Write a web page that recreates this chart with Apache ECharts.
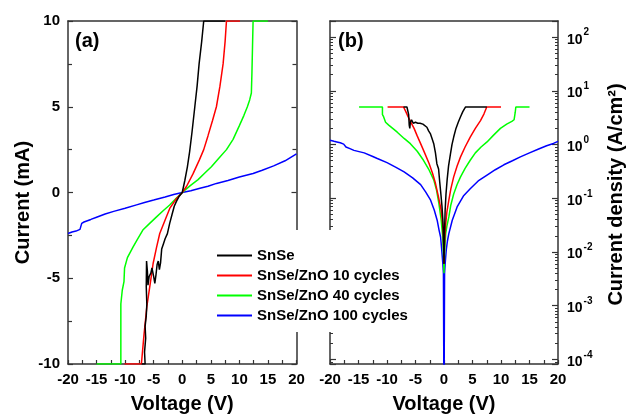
<!DOCTYPE html>
<html>
<head>
<meta charset="utf-8">
<script src="https://cdn.jsdelivr.net/npm/echarts@6/dist/echarts.min.js"></script>
<style>
html,body{margin:0;padding:0;background:#fff;}
#chart{width:628px;height:414px;}
</style>
</head>
<body>
<div id="chart"></div>
<script>
// ---------- data ----------
const seriesNames = ['SnSe', 'SnSe/ZnO 10 cycles', 'SnSe/ZnO 40 cycles', 'SnSe/ZnO 100 cycles'];
const seriesColors = ['#000000', '#ff0000', '#00ff00', '#0000ff'];
const panelLabels = ['(a)', '(b)'];
const voltageTicks = [-20, -15, -10, -5, 0, 5, 10, 15, 20];
const currentTicks = [-10, -5, 0, 5, 10];
const densityDecades = [-4, -3, -2, -1, 0, 1, 2];

// Panel (a): [Voltage (V), Current (mA)]
const snseIV = [[-7.1,-10],[-6.5,-10],[-6.6,-9.3],[-6.4,-8.5],[-6.5,-7.8],[-6.3,-7.2],[-6.2,-6.5],[-6.3,-5.5],[-6.25,-4.0],[-6.1,-4.6],[-6.0,-5.4],[-5.8,-4.9],[-5.5,-4.7],[-5.3,-4.4],[-5.0,-4.9],[-4.8,-5.3],[-4.6,-4.8],[-4.4,-4.2],[-4.2,-4.0],[-4.0,-4.5],[-3.8,-4.1],[-3.6,-3.3],[-3.3,-3.0],[-3.0,-2.7],[-2.6,-2.4],[-2.2,-1.8],[-1.8,-1.3],[-1.4,-0.8],[-1.0,-0.5],[-0.6,-0.25],[0,0],[0.45,0.7],[0.9,1.5],[1.3,2.4],[1.7,3.5],[2.2,5.0],[2.6,6.2],[2.95,7.5],[3.4,8.8],[3.76,10],[7.5,10]];
const zno10IV = [[-10.1,-10],[-7.15,-10],[-6.7,-8.3],[-6.2,-6.66],[-5.6,-5.3],[-5.1,-4.14],[-4.5,-3.2],[-3.94,-2.39],[-3.0,-1.6],[-2.19,-0.93],[-1.0,-0.35],[0,0],[0.74,0.35],[1.9,1.1],[3.0,1.9],[3.76,2.5],[4.5,3.3],[5.3,4.2],[5.98,5.0],[6.6,6.2],[7.15,7.5],[7.5,8.8],[7.74,10],[10.1,10]];
const zno40IV = [[-15,-10],[-10.75,-10],[-10.75,-6.5],[-10.5,-5.7],[-10.2,-5.2],[-10.1,-4.4],[-9.6,-3.8],[-8.6,-3.17],[-7.8,-2.7],[-6.9,-2.19],[-5.7,-1.8],[-4.5,-1.42],[-3.3,-1.05],[-2.2,-0.73],[-1.1,-0.35],[0,0],[1.4,0.4],[2.77,0.75],[4.0,1.15],[5.1,1.5],[6.4,2.0],[7.74,2.5],[8.9,3.1],[10.0,3.9],[10.8,4.5],[11.4,5.0],[11.8,5.4],[12.1,5.8],[12.2,7.0],[12.3,8.5],[12.4,10],[15,10]];
const zno100IV = [[-20,-2.39],[-19.3,-2.3],[-18.6,-2.25],[-17.9,-2.15],[-17.6,-1.8],[-17.2,-1.72],[-16,-1.57],[-15,-1.44],[-13.5,-1.25],[-12,-1.1],[-10,-0.92],[-8,-0.72],[-6.6,-0.58],[-5,-0.44],[-3,-0.26],[-1.5,-0.12],[0,0],[1.5,0.1],[3.1,0.25],[4.5,0.36],[6,0.53],[8,0.7],[10,0.9],[12.4,1.11],[14,1.3],[16,1.55],[18,1.85],[19,2.05],[20,2.25]];

// Panel (b): [Voltage (V), Current density (A/cm^2)]
const snseJV = [[-7.1,5],[-6.5,5],[-6.4,4.6],[-6.2,3.6],[-6.1,2.3],[-6.0,2.0],[-5.9,2.6],[-5.7,2.9],[-5.4,2.5],[-5.2,2.4],[-5.0,2.6],[-4.8,2.7],[-4.6,2.5],[-4.4,2.7],[-4.2,2.5],[-4.0,2.6],[-3.7,2.4],[-3.4,2.3],[-3.0,2.1],[-2.7,1.8],[-2.4,1.6],[-2.1,1.3],[-1.8,1.04],[-1.5,0.7],[-1.25,0.44],[-0.95,0.35],[-0.75,0.2],[-0.55,0.12],[-0.35,0.07],[-0.2,0.04],[-0.1,0.02],[0,0.006],[0.1,0.025],[0.2,0.06],[0.35,0.12],[0.55,0.22],[0.8,0.4],[1.14,0.68],[1.4,1.0],[1.7,1.38],[2.1,2.0],[2.5,2.6],[2.9,3.3],[3.3,4.1],[3.76,5],[7.5,5]];
const zno10JV = [[-9.9,5],[-7.1,5],[-6.7,4.1],[-6.3,3.3],[-5.8,2.6],[-5.25,2.0],[-4.7,1.45],[-4.1,1.04],[-3.4,0.7],[-2.6,0.44],[-2.0,0.29],[-1.5,0.19],[-1.0,0.11],[-0.5,0.06],[-0.25,0.035],[-0.1,0.019],[0,0.006],[0.1,0.015],[0.26,0.03],[0.5,0.055],[0.85,0.092],[1.2,0.15],[1.7,0.25],[2.3,0.4],[2.9,0.59],[3.7,0.9],[4.6,1.38],[5.5,2.0],[6.4,2.8],[7.0,3.7],[7.5,5],[10,5]];
const zno40JV = [[-14.9,5],[-10.8,5],[-10.8,3.6],[-10.6,3.3],[-10.25,2.6],[-9.7,2.3],[-9.0,2.0],[-8.2,1.7],[-7.0,1.3],[-5.9,1.04],[-4.7,0.75],[-3.6,0.51],[-2.7,0.35],[-1.8,0.22],[-1.3,0.14],[-0.9,0.08],[-0.5,0.04],[-0.25,0.02],[-0.1,0.01],[0,0.004],[0.1,0.01],[0.3,0.022],[0.5,0.03],[0.85,0.045],[1.2,0.075],[1.7,0.12],[2.3,0.18],[2.9,0.25],[3.7,0.36],[4.6,0.51],[5.5,0.7],[6.5,0.9],[7.55,1.12],[8.7,1.5],[9.9,2.0],[11.0,2.4],[11.9,2.7],[12.3,2.9],[12.5,4.0],[12.6,5],[15,5]];
const zno100JV = [[-20,1.2],[-19.3,1.15],[-18.8,1.12],[-18.2,1.08],[-17.6,1.02],[-17.2,0.9],[-16.5,0.84],[-15.8,0.78],[-14,0.7],[-12.5,0.6],[-11.7,0.55],[-10,0.46],[-8.5,0.38],[-7,0.31],[-5.5,0.24],[-4.1,0.18],[-3.2,0.13],[-2.35,0.092],[-1.7,0.06],[-1.2,0.039],[-0.85,0.025],[-0.6,0.019],[-0.4,0.011],[-0.2,0.006],[-0.1,0.004],[0,0.00001],[0.1,0.004],[0.2,0.006],[0.4,0.011],[0.6,0.016],[0.85,0.022],[1.45,0.039],[2.3,0.069],[3.4,0.11],[4.6,0.15],[6,0.21],[7.55,0.27],[9,0.34],[10.5,0.42],[12,0.5],[13.4,0.59],[15,0.7],[16.5,0.82],[18,0.95],[19.2,1.05],[20,1.15]];

const ivData = [snseIV, zno10IV, zno40IV, zno100IV];
const jvData = [snseJV, zno10JV, zno40JV, zno100JV];

// ---------- chart ----------
const FONT = '"Liberation Sans", Arial, sans-serif';
const AXIS_COLOR = '#333333';
const chart = echarts.init(document.getElementById('chart'), null, {renderer: 'canvas'});

const axisLine = {show: true, onZero: false, lineStyle: {color: AXIS_COLOR, width: 1.5}};
const labelStyle = {color: '#000', fontFamily: FONT, fontWeight: 'bold', fontSize: 15};
const nameStyle = {color: '#000', fontFamily: FONT, fontWeight: 'bold', fontSize: 20};

function voltageAxis(gridIndex) {
  return {
    type: 'value', gridIndex: gridIndex,
    min: voltageTicks[0], max: voltageTicks[voltageTicks.length - 1], interval: 5,
    axisLine: axisLine,
    axisTick: {show: true, inside: true, length: 4, lineStyle: {color: AXIS_COLOR, width: 1.2}},
    minorTick: {show: true, splitNumber: 2, length: 4, lineStyle: {color: AXIS_COLOR, width: 1.2}},
    axisLabel: Object.assign({margin: 8, formatter: v => String(v)}, labelStyle),
    splitLine: {show: false},
    name: 'Voltage (V)', nameLocation: 'middle', nameGap: 30, nameTextStyle: nameStyle
  };
}
function currentAxis(position, showLabel) {
  return {
    type: 'value', gridIndex: 0, position: position,
    min: currentTicks[0], max: currentTicks[currentTicks.length - 1], interval: 5,
    axisLine: axisLine,
    axisTick: {show: true, inside: true, length: 5, lineStyle: {color: AXIS_COLOR, width: 1.2}},
    minorTick: {show: true, splitNumber: 2, length: 4, lineStyle: {color: AXIS_COLOR, width: 1.2}},
    axisLabel: Object.assign({show: showLabel, margin: 8}, labelStyle),
    splitLine: {show: false},
    name: showLabel ? 'Current (mA)' : '', nameLocation: 'middle', nameGap: 35,
    nameTextStyle: Object.assign({padding: [0, 20, 0, 0]}, nameStyle)
  };
}
function isDecade(v) {
  const e = Math.log10(v);
  return Math.abs(e - Math.round(e)) < 1e-6 && densityDecades.indexOf(Math.round(e)) >= 0;
}
function densityAxis(position, showLabel) {
  return {
    type: 'log', logBase: 10, gridIndex: 1, position: position,
    min: 8.2e-5, max: 200,
    axisLine: axisLine,
    axisTick: {show: true, inside: true, length: 6, lineStyle: {color: AXIS_COLOR, width: 1.2}},
    minorTick: {show: true, splitNumber: 9, length: 3, lineStyle: {color: AXIS_COLOR, width: 1}},
    axisLabel: {
      show: showLabel, margin: 9, showMinLabel: true, showMaxLabel: true,
      formatter: function (v) {
        if (!isDecade(v)) return '';
        return '{b|10}{s|' + Math.round(Math.log10(v)) + '}';
      },
      rich: {
        b: {fontFamily: FONT, fontWeight: 'bold', fontSize: 14, color: '#000', verticalAlign: 'bottom'},
        s: {fontFamily: FONT, fontWeight: 'bold', fontSize: 10, color: '#000', verticalAlign: 'bottom', padding: [0, 0, 9, 1]}
      }
    },
    splitLine: {show: false},
    name: showLabel ? 'Current density (A/cm²)' : '', nameLocation: 'middle', nameGap: 48,
    nameTextStyle: Object.assign({padding: [0, 4, 0, 0]}, nameStyle)
  };
}

const series = [];
for (let i = 0; i < seriesNames.length; i++) {
  series.push({
    name: seriesNames[i], type: 'line', xAxisIndex: 0, yAxisIndex: 0,
    data: ivData[i], symbol: 'none', showSymbol: false, smooth: false, clip: true,
    lineStyle: {color: seriesColors[i], width: 1.5}, itemStyle: {color: seriesColors[i]},
    z: 2 + (seriesNames.length - i)
  });
}
for (let i = 0; i < seriesNames.length; i++) {
  series.push({
    name: seriesNames[i], type: 'line', xAxisIndex: 1, yAxisIndex: 2,
    data: jvData[i], symbol: 'none', showSymbol: false, smooth: false, clip: true,
    lineStyle: {color: seriesColors[i], width: 1.5}, itemStyle: {color: seriesColors[i]},
    z: 2 + (seriesNames.length - i)
  });
}

const option = {
  backgroundColor: '#fff',
  animation: false,
  textStyle: {fontFamily: FONT},
  title: [
    {text: panelLabels[0], left: 75, top: 31, padding: 0, textStyle: {fontFamily: FONT, fontWeight: 'bold', fontSize: 20, color: '#000'}},
    {text: panelLabels[1], left: 338, top: 31, padding: 0, textStyle: {fontFamily: FONT, fontWeight: 'bold', fontSize: 20, color: '#000'}}
  ],
  grid: [
    {left: 68, top: 21, width: 228.5, height: 343, show: false, containLabel: false, outerBoundsMode: 'none'},
    {left: 330, top: 21, width: 228, height: 343, show: false, containLabel: false, outerBoundsMode: 'none'}
  ],
  xAxis: [
    voltageAxis(0), voltageAxis(1),
    {type: 'value', gridIndex: 0, position: 'top', min: -20, max: 20, axisLine: axisLine, axisTick: {show: false}, axisLabel: {show: false}, splitLine: {show: false}},
    {type: 'value', gridIndex: 1, position: 'top', min: -20, max: 20, axisLine: axisLine, axisTick: {show: false}, axisLabel: {show: false}, splitLine: {show: false}}
  ],
  yAxis: [
    currentAxis('left', true), currentAxis('right', false),
    densityAxis('left', false), densityAxis('right', true)
  ],
  legend: {
    orient: 'vertical', left: 213, top: 230,
    padding: [18, 24, 9, 4],
    backgroundColor: '#ffffff',
    icon: 'rect',
    itemWidth: 35, itemHeight: 2, itemGap: 5,
    data: seriesNames,
    textStyle: {fontFamily: FONT, fontWeight: 'bold', fontSize: 15, color: '#000'},
    z: 10
  },
  series: series
};
chart.setOption(option);
</script>
</body>
</html>
